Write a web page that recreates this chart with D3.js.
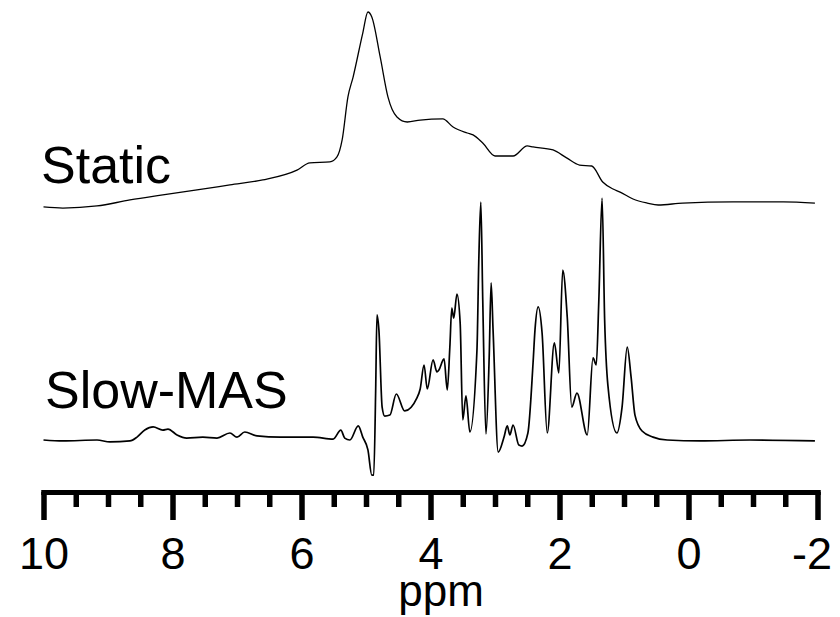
<!DOCTYPE html>
<html>
<head>
<meta charset="utf-8">
<script src="https://cdn.jsdelivr.net/npm/d3@7"></script>
<style>
  body { margin: 0; background: #fff; }
  text { font-family: "Liberation Sans", Arial, sans-serif; fill: #000; }
</style>
</head>
<body>
<div id="chart"></div>
<script>
// ppm positions and intensities (arbitrary units, tallest peak = 100)
var staticPpm = [10.0, 9.70, 9.17, 8.66, 8.15, 7.62, 7.11, 6.60, 6.07, 5.87, 5.56, 5.45, 5.37, 5.28, 5.20, 5.05, 4.97, 4.91, 4.78, 4.66, 4.52, 4.36, 4.16, 3.81, 3.65, 3.43, 3.34, 3.19, 3.00, 2.72, 2.50, 2.41, 2.10, 1.89, 1.69, 1.50, 1.33, 1.17, 1.06, 0.86, 0.64, 0.47, 0.09, -0.69, -1.47, -1.96];
var staticInt = [-1.0, -1.6, -0.5, 2.6, 5.2, 7.8, 10.4, 13.0, 18.1, 21.8, 22.3, 24.9, 33.7, 56.0, 66.3, 89.1, 100, 97.4, 76.7, 56.0, 45.6, 43.0, 44.0, 44.6, 40.4, 37.3, 36.3, 32.1, 25.4, 25.4, 30.6, 30.1, 28.5, 24.4, 20.7, 20.2, 11.9, 8.3, 6.7, 3.1, 1.0, 0, 1.0, 1.6, 1.6, 1.0];

var masPpm = [10.0, 9.70, 9.17, 8.97, 8.66, 8.55, 8.43, 8.30, 8.15, 8.07, 7.93, 7.78, 7.53, 7.31, 7.11, 7.00, 6.88, 6.69, 6.33, 5.82, 5.51, 5.39, 5.33, 5.25, 5.12, 5.05, 4.97, 4.91, 4.88, 4.85, 4.83, 4.80, 4.75, 4.71, 4.63, 4.53, 4.40, 4.21, 4.16, 4.10, 4.05, 3.96, 3.90, 3.87, 3.79, 3.74, 3.70, 3.67, 3.64, 3.59, 3.54, 3.50, 3.45, 3.39, 3.28, 3.25, 3.22, 3.19, 3.14, 3.09, 3.06, 3.03, 2.95, 2.86, 2.81, 2.77, 2.72, 2.63, 2.58, 2.49, 2.41, 2.38, 2.33, 2.27, 2.19, 2.08, 2.01, 1.95, 1.88, 1.81, 1.73, 1.57, 1.48, 1.43, 1.39, 1.34, 1.30, 1.25, 1.11, 1.03, 0.95, 0.89, 0.83, 0.72, 0.55, 0.33, -0.18, -0.95, -1.96];
var masInt = [0, -0.4, 0, -0.8, -0.4, 1.2, 4.1, 5.4, 4.1, 4.5, 2.1, 0.8, 1.2, 0.8, 2.9, 1.2, 3.3, 1.7, 1.2, 1.2, 0.4, 4.1, 0.8, 0, 5.8, 1.2, -4.1, -14.5, -14.5, 20.7, 51.7, 45.5, 13.6, 9.9, 10.3, 19.0, 12.0, 17.4, 21.1, 31.0, 21.1, 33.1, 28.1, 28.9, 33.5, 20.7, 38.4, 54.5, 50.4, 60.3, 48.3, 8.3, 18.2, 3.3, 37.0, 75.6, 98.3, 57.9, 2.5, 34.3, 64.9, 45.5, -5.0, 1.2, 5.8, 2.1, 6.2, -2.1, -2.5, 2.9, 31.8, 45.5, 55.0, 44.2, 2.9, 40.1, 27.7, 70.2, 50.8, 13.6, 19.4, 2.1, 33.9, 31.0, 57.9, 100, 49.6, 22.7, 2.9, 13.6, 38.4, 26.0, 10.3, 3.7, 1.2, 0, -0.4, 0, -0.4];

var majorTicks = [10, 8, 6, 4, 2, 0, -2];
var minorTicks = [9, 7, 5, 3, 1, -1, 9.5, 8.5, 7.5, 6.5, 5.5, 4.5, 3.5, 2.5, 1.5, 0.5, -0.5, -1.5];
var traceNames = ["Static", "Slow-MAS"];

var width = 840, height = 617;

var svg = d3.select("#chart")
  .append("svg")
  .attr("width", width)
  .attr("height", height);

// reversed ppm axis, as usual for NMR
var x = d3.scaleLinear().domain([10, -2]).range([43.5, 817.5]);
var yStatic = d3.scaleLinear().domain([0, 100]).range([205, 12]);
var yMas = d3.scaleLinear().domain([0, 100]).range([440, 198]);

function drawTrace(ppm, vals, y, w) {
  var pts = ppm.map(function(p, i) { return [p, vals[i]]; });
  var line = d3.line()
    .curve(d3.curveMonotoneX)
    .x(function(d) { return x(d[0]); })
    .y(function(d) { return y(d[1]); });
  svg.append("path")
    .datum(pts)
    .attr("d", line)
    .attr("fill", "none")
    .attr("stroke", "#000")
    .attr("stroke-width", w)
    .attr("stroke-linejoin", "round");
}

drawTrace(staticPpm, staticInt, yStatic, 1.3);
drawTrace(masPpm, masInt, yMas, 1.7);

// trace labels
svg.append("text").attr("x", 41).attr("y", 183).style("font-size", "52px").text(traceNames[0]);
svg.append("text").attr("x", 45).attr("y", 408).style("font-size", "52px").text(traceNames[1]);

// axis: minor ticks first, then major ticks with labels
var axisY = 492;
var minorAxis = d3.axisBottom(x).tickValues(minorTicks).tickSize(15).tickSizeOuter(0).tickFormat("");
var majorAxis = d3.axisBottom(x).tickValues(majorTicks).tickSize(28).tickSizeOuter(0).tickPadding(17)
  .tickFormat(function(d) { return String(d); }); // plain hyphen, not unicode minus

var gMinor = svg.append("g").attr("transform", "translate(0," + axisY + ")").call(minorAxis);
var gMajor = svg.append("g").attr("transform", "translate(0," + axisY + ")").call(majorAxis);

svg.selectAll(".domain").attr("stroke", "#000").attr("stroke-width", 5).attr("stroke-linecap", "square");
svg.selectAll(".tick line").attr("stroke", "#000").attr("stroke-width", 5.5);
gMajor.selectAll(".tick text")
  .attr("font-family", "Liberation Sans, Arial, sans-serif")
  .attr("font-size", 45)
  .attr("fill", "#000")
  .attr("dx", function(d) { return d < 0 ? -6 : 0; });

svg.append("text")
  .attr("x", 441)
  .attr("y", 606)
  .attr("text-anchor", "middle")
  .style("font-size", "44px")
  .text("ppm");
</script>
</body>
</html>
